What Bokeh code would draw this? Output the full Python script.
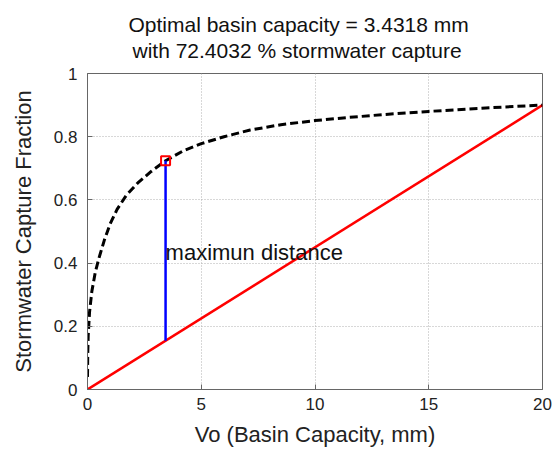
from bokeh.plotting import figure
from bokeh.models import Range1d, FixedTicker, Title
from bokeh.core.properties import value
from bokeh.embed import file_html
from bokeh.resources import INLINE

# ---- data ----
title_line1 = "Optimal basin capacity = 3.4318 mm"
title_line2 = "with 72.4032 % stormwater capture"
x_label = "Vo (Basin Capacity, mm)"
y_label = "Stormwater Capture Fraction"
annotation_text = "maximun distance"

x_ticks = [0, 5, 10, 15, 20]
x_tick_labels = ["0", "5", "10", "15", "20"]
y_ticks = [0, 0.2, 0.4, 0.6, 0.8, 1]
y_tick_labels = ["0", "0.2", "0.4", "0.6", "0.8", "1"]

capture_x = [0, 0.01, 0.03, 0.09, 0.19, 0.34, 0.5, 0.75, 1.0, 1.3, 1.7, 2.2, 2.8,
             3.4318, 4.2, 5, 6, 7.15, 8.5, 10, 11.5, 13, 15, 17.5, 20]
capture_y = [0.04, 0.11, 0.17, 0.245, 0.31, 0.37, 0.415, 0.475, 0.525, 0.57, 0.614, 0.653, 0.69,
             0.724, 0.755, 0.778, 0.800, 0.821, 0.838, 0.851, 0.861, 0.870, 0.880, 0.891, 0.90]

diag_x = [0, 20]
diag_y = [0, 0.90]

opt_x = [3.4318]
opt_y = [0.724032]
opt_line_x = [3.4318, 3.4318]
opt_line_y = [0.9 * 3.4318 / 20, 0.724032]

text_x = [3.4318]
text_y = [0.433]

FONT = "Liberation Sans"

p = figure(width=557, height=451, output_backend="svg", toolbar_location=None,
           x_range=Range1d(0, 20), y_range=Range1d(0, 1),
           min_border_left=87, min_border_right=15, min_border_top=73, min_border_bottom=62)
p.background_fill_color = "white"
p.border_fill_color = "white"
p.outline_line_color = "#666666"
p.outline_line_width = 1

# small spacer between plot frame and the two title lines
spacer = Title(text=" ", text_font_size="1px", standoff=9, align="left")
t2 = Title(text=title_line2, align="left", offset=45, text_font=FONT,
           text_font_size="21px", text_font_style="normal", text_color="#111111", standoff=0)
t1 = Title(text=title_line1, align="left", offset=41, text_font=FONT,
           text_font_size="21px", text_font_style="normal", text_color="#111111", standoff=2)
p.add_layout(spacer, "above")
p.add_layout(t2, "above")
p.add_layout(t1, "above")

for ax in (p.xaxis[0], p.yaxis[0]):
    ax.axis_line_color = "#666666"
    ax.major_tick_line_color = "#666666"
    ax.major_tick_in = 5
    ax.major_tick_out = 0
    ax.minor_tick_line_color = None
    ax.major_label_text_font = FONT
    ax.major_label_text_font_size = "17px"
    ax.major_label_text_color = "#222222"
    ax.axis_label_text_font = FONT
    ax.axis_label_text_font_size = "22px"
    ax.axis_label_text_font_style = "normal"
    ax.axis_label_text_color = "#222222"

p.xaxis.ticker = FixedTicker(ticks=x_ticks)
p.xaxis.major_label_overrides = dict(zip(x_ticks, x_tick_labels))
p.yaxis.ticker = FixedTicker(ticks=y_ticks)
p.yaxis.major_label_overrides = dict(zip(y_ticks, y_tick_labels))
p.xaxis.axis_label = x_label
p.yaxis.axis_label = y_label
p.xaxis.major_label_standoff = 8
p.xaxis.axis_label_standoff = 9
p.yaxis.major_label_standoff = 10
p.yaxis.axis_label_standoff = 15

p.grid.grid_line_color = "#b0b0b0"
p.grid.grid_line_dash = "1 2"
p.grid.grid_line_width = 1
p.xgrid.ticker = FixedTicker(ticks=x_ticks[1:-1])
p.ygrid.ticker = FixedTicker(ticks=y_ticks[1:-1])

p.line(diag_x, diag_y, line_color="#ff0000", line_width=2.5)
p.line(capture_x, capture_y, line_color="black", line_width=3, line_dash="8 4")
p.line(opt_line_x, opt_line_y, line_color="#0000ff", line_width=2.5)
p.scatter(opt_x, opt_y, marker="square", size=9, fill_color=None,
          line_color="#ff0000", line_width=2)

p.text(x=text_x, y=text_y, text=[annotation_text], text_font=value(FONT),
       text_font_size="22px", text_color="#111111", text_baseline="alphabetic",
       text_align="left")

open("out.html", "w").write(file_html(p, INLINE))
